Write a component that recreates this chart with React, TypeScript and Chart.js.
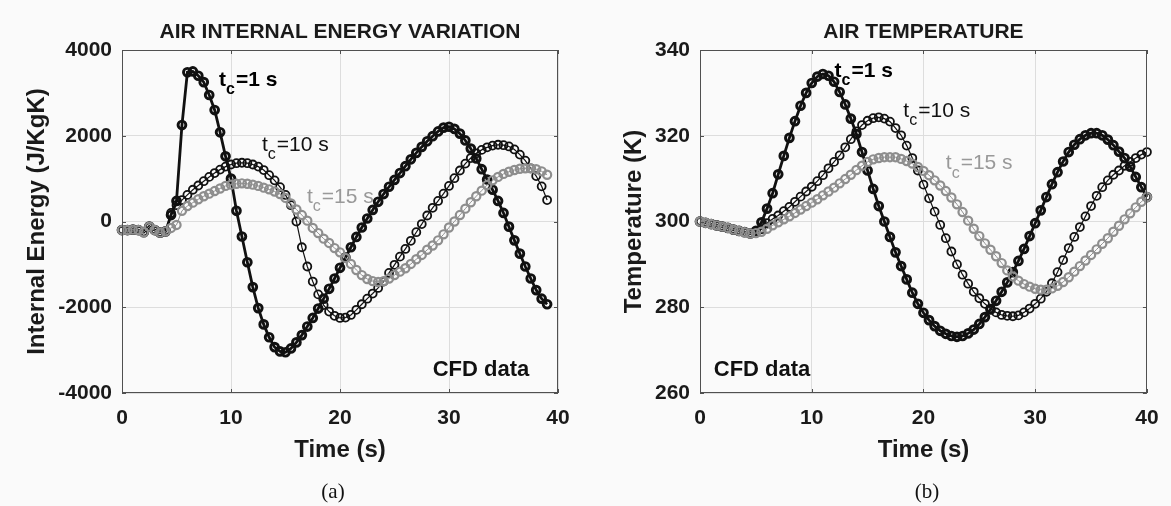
import React, { useEffect, useRef } from "react";
import { Chart, registerables } from "chart.js";

Chart.register(...registerables);

const FONT = "'Liberation Sans', Arial, Helvetica, sans-serif";

// ---------- data ----------
const TIME_A = [0,0.5,1,1.5,2,2.5,3,3.5,4,4.5,5,5.5,6,6.5,7,7.5,8,8.5,9,9.5,10,10.5,11,11.5,12,12.5,13,13.5,14,14.5,15,15.5,16,16.5,17,17.5,18,18.5,19,19.5,20,20.5,21,21.5,22,22.5,23,23.5,24,24.5,25,25.5,26,26.5,27,27.5,28,28.5,29,29.5,30,30.5,31,31.5,32,32.5,33,33.5,34,34.5,35,35.5,36,36.5,37,37.5,38,38.5,39];
const TIME_B = [0,0.5,1,1.5,2,2.5,3,3.5,4,4.5,5,5.5,6,6.5,7,7.5,8,8.5,9,9.5,10,10.5,11,11.5,12,12.5,13,13.5,14,14.5,15,15.5,16,16.5,17,17.5,18,18.5,19,19.5,20,20.5,21,21.5,22,22.5,23,23.5,24,24.5,25,25.5,26,26.5,27,27.5,28,28.5,29,29.5,30,30.5,31,31.5,32,32.5,33,33.5,34,34.5,35,35.5,36,36.5,37,37.5,38,38.5,39,39.5,40];

const ENERGY_TC1 = [-200,-200,-190,-200,-250,-120,-200,-260,-230,
  150,480,2250,3480,3500,3400,3250,2950,2600,2080,
  1520,1000,250,-350,-950,-1530,-2020,-2400,-2700,-2930,
  -3030,-3050,-2960,-2820,-2650,-2450,-2250,-2030,-1800,-1570,
  -1330,-1080,-840,-600,-360,-140,70,270,460,640,
  810,970,1130,1290,1450,1600,1740,1870,1990,2100,
  2190,2210,2160,2050,1890,1700,1470,1220,980,740,
  480,200,-120,-440,-750,-1050,-1330,-1600,-1800,-1930];
const ENERGY_TC10 = [-200,-200,-190,-200,-250,-120,-200,-260,-230,
  200,380,500,620,740,840,940,1040,1130,1210,
  1280,1330,1360,1370,1360,1330,1280,1200,1080,960,
  800,620,380,0,-600,-1050,-1400,-1700,-1950,-2100,
  -2200,-2250,-2240,-2180,-2060,-1930,-1800,-1680,-1550,-1400,
  -1200,-1010,-820,-640,-450,-250,-60,140,320,480,
  650,830,1010,1190,1350,1480,1590,1670,1730,1770,
  1790,1780,1750,1680,1560,1420,1240,1060,820,500];
const ENERGY_TC15 = [-200,-200,-190,-200,-250,-120,-200,-260,-230,
  -150,-80,250,360,440,520,590,650,710,770,
  830,860,880,890,880,860,830,790,750,700,
  640,550,420,280,150,20,-150,-270,-400,-500,
  -620,-720,-850,-990,-1130,-1250,-1340,-1390,-1410,-1390,
  -1330,-1250,-1170,-1090,-990,-880,-780,-660,-560,-440,
  -300,-140,0,150,300,450,590,720,850,960,
  1040,1110,1160,1200,1230,1240,1240,1220,1170,1090];

const TEMP_TC1 = [300,299.7,299.4,299.1,298.8,298.5,298.1,297.8,297.5,297.2,
  297.8,299.8,303,306.6,311,315.3,319.5,323.4,327,330,
  332.3,333.8,334.4,334,332.6,330.2,327.3,324,320.4,316.2,
  311.9,307.6,303.6,300,296.4,292.8,289.6,286.5,283.4,280.8,
  278.7,277,275.6,274.5,273.8,273.3,273.1,273.3,273.9,274.8,
  276.1,277.7,279.5,281.5,283.6,285.8,288.2,290.8,293.6,296.6,
  299.6,302.6,305.7,308.7,311.5,314,316.2,317.9,319.2,320.1,
  320.6,320.6,320.1,319.1,317.8,316.3,314.8,312.8,310.4,308,
  305.7];
const TEMP_TC10 = [300,299.7,299.4,299.1,298.8,298.5,298.1,297.8,297.5,297.2,
  297.4,298.2,299.6,300.6,301.4,302.4,303.4,304.6,305.8,307,
  308.1,309.4,310.8,312.4,313.9,315.4,317.3,319.2,321,322.5,
  323.5,324.1,324.3,324,323.3,321.8,320.1,317.7,314.8,311.9,
  308.6,305.4,302.3,299.2,296.1,293,290,287.6,285.5,283.6,
  282.1,280.8,279.7,278.8,278.2,278,277.9,278.1,278.8,279.7,
  280.8,282,283.6,285.6,288.2,291,293.8,296.4,298.7,301.2,
  303.6,306,308,309.6,310.9,311.9,313,313.9,314.8,315.6,
  316.2];
const TEMP_TC15 = [300,299.7,299.4,299.1,298.8,298.5,298.1,297.8,297.5,297.2,
  297.3,297.6,298.3,299.1,299.8,300.5,301.2,302,302.8,303.6,
  304.4,305.2,306.1,307,307.9,308.9,309.9,310.9,312,313,
  313.9,314.5,314.8,315,315,315,314.6,314.1,313.5,312.7,
  311.8,310.8,309.6,308.4,307.1,305.6,304,302.2,300.2,298.3,
  296.6,294.9,293.4,291.9,290.3,288.6,287.2,286.2,285.4,284.8,
  284.3,284.1,284.1,284.4,285,285.9,287,288.3,289.6,290.9,
  292.2,293.5,294.8,296.1,297.6,299,300.5,301.9,303.3,304.6,
  305.7];

const X_TICKS = [0, 10, 20, 30, 40];
const ENERGY_TICKS = [-4000, -2000, 0, 2000, 4000];
const TEMP_TICKS = [260, 280, 300, 320, 340];

const SERIES_NAMES = ["1", "10", "15"];

// ---------- styles ----------
const STYLES = [
  { color: "#111111", line: 2.8, radius: 3.9, ring: 2.9 },
  { color: "#111111", line: 1.2, radius: 4.0, ring: 1.8 },
  { color: "#8e8e8e", line: 1.0, radius: 4.1, ring: 2.2 },
];

type Label = { x: number; y: number; sub?: boolean; text: string; bold: boolean; color: string };

function makeFrame(title: string, labels: Label[]) {
  return {
    id: "frame",
    afterDraw(chart: any) {
      const { ctx, chartArea: a, scales } = chart;
      const xs = scales.x;
      const ys = scales.y;
      ctx.save();
      // box
      ctx.strokeStyle = "#505050";
      ctx.lineWidth = 1;
      ctx.strokeRect(Math.round(a.left) + 0.5, Math.round(a.top) + 0.5, Math.round(a.right - a.left) - 1, Math.round(a.bottom - a.top) - 1);
      // inner ticks
      const tl = 4;
      ctx.beginPath();
      for (const v of X_TICKS) {
        const px = Math.round(xs.getPixelForValue(v)) + 0.5;
        ctx.moveTo(px, a.bottom); ctx.lineTo(px, a.bottom - tl);
        ctx.moveTo(px, a.top); ctx.lineTo(px, a.top + tl);
      }
      for (const t of ys.ticks) {
        const py = Math.round(ys.getPixelForValue(t.value)) + 0.5;
        ctx.moveTo(a.left, py); ctx.lineTo(a.left + tl, py);
        ctx.moveTo(a.right, py); ctx.lineTo(a.right - tl, py);
      }
      ctx.stroke();
      // title
      ctx.fillStyle = "#1a1a1a";
      ctx.font = `bold 21px ${FONT}`;
      ctx.textAlign = "center";
      ctx.textBaseline = "middle";
      ctx.fillText(title, (a.left + a.right) / 2, 32);
      // annotations
      ctx.textAlign = "left";
      for (const l of labels) {
        let px = xs.getPixelForValue(l.x);
        const py = ys.getPixelForValue(l.y);
        const w = l.bold ? "bold" : "normal";
        ctx.fillStyle = l.color;
        if (l.sub) {
          ctx.font = `${w} 21px ${FONT}`;
          ctx.fillText("t", px, py);
          px += ctx.measureText("t").width;
          ctx.font = `${w} 16px ${FONT}`;
          ctx.fillText("c", px, py + 10);
          px += ctx.measureText("c").width + 1;
          ctx.font = `${w} 21px ${FONT}`;
          ctx.fillText(l.text, px, py);
        } else {
          ctx.font = `${w} 22px ${FONT}`;
          ctx.fillText(l.text, px, py);
        }
      }
      ctx.restore();
    },
  };
}

type PanelCfg = {
  time: number[];
  series: number[][];
  yMin: number;
  yMax: number;
  yTicks: number[];
  yTitle: string;
  yWidth: number;
  yTitlePad: number;
  padRight: number;
  title: string;
  labels: Label[];
};

function makeConfig(p: PanelCfg): any {
  const datasets = p.series
    .map((vals, i) => {
      const s = STYLES[i];
      return {
        label: "tc=" + SERIES_NAMES[i] + " s",
        data: vals.map((v, k) => ({ x: p.time[k], y: v })),
        borderColor: s.color,
        borderWidth: s.line,
        pointRadius: s.radius,
        pointBorderWidth: s.ring,
        pointBorderColor: s.color,
        pointBackgroundColor: "rgba(0,0,0,0)",
        pointStyle: "circle",
        tension: 0,
        clip: false,
        order: 3 - i,
      };
    });
  const tickFont = { family: FONT, size: 21, weight: "bold" };
  const titleFont = { family: FONT, size: 24, weight: "bold" };
  return {
    type: "line",
    data: { datasets },
    plugins: [makeFrame(p.title, p.labels)],
    options: {
      responsive: false,
      devicePixelRatio: 1,
      animation: false,
      events: [],
      layout: { padding: { left: 0, right: p.padRight, top: 50, bottom: 0 } },
      plugins: { legend: { display: false }, tooltip: { enabled: false }, title: { display: false } },
      scales: {
        x: {
          type: "linear",
          min: 0,
          max: 40,
          afterBuildTicks: (s: any) => { s.ticks = X_TICKS.map((v) => ({ value: v })); },
          afterFit: (s: any) => { s.height = 113; },
          ticks: { font: tickFont, color: "#1a1a1a", padding: 12.4, maxRotation: 0, autoSkip: false, callback: (v: any) => String(v) },
          grid: { color: "#dddddd", lineWidth: 1, drawTicks: false },
          border: { display: false },
          title: { display: true, text: "Time (s)", font: titleFont, color: "#1a1a1a", padding: { top: 0, bottom: 41.6 } },
        },
        y: {
          type: "linear",
          position: "left",
          min: p.yMin,
          max: p.yMax,
          afterBuildTicks: (s: any) => { s.ticks = p.yTicks.map((v) => ({ value: v })); },
          afterFit: (s: any) => { s.width = p.yWidth; },
          ticks: { font: tickFont, color: "#1a1a1a", padding: 10, autoSkip: false, callback: (v: any) => String(v) },
          grid: { color: "#dddddd", lineWidth: 1, drawTicks: false },
          border: { display: false },
          title: { display: true, text: p.yTitle, font: titleFont, color: "#1a1a1a", padding: { top: p.yTitlePad, bottom: 0 } },
        },
      },
    },
  };
}

const captionStyle = (cx: number): React.CSSProperties => ({
  position: "absolute",
  left: cx - 50,
  width: 100,
  top: 478,
  height: 26,
  lineHeight: "26px",
  textAlign: "center",
  fontFamily: "'Liberation Serif', 'Times New Roman', serif",
  fontSize: 21,
  color: "#111",
});

export default function App() {
  const refA = useRef<HTMLCanvasElement>(null);
  const refB = useRef<HTMLCanvasElement>(null);

  useEffect(() => {
    const chartA = new Chart(refA.current as HTMLCanvasElement, makeConfig({
      time: TIME_A,
      series: [ENERGY_TC1, ENERGY_TC10, ENERGY_TC15],
      yMin: -4000,
      yMax: 4000,
      yTicks: ENERGY_TICKS,
      yTitle: "Internal Energy (J/KgK)",
      yWidth: 122,
      yTitlePad: 22.6,
      padRight: 27,
      title: "AIR INTERNAL ENERGY VARIATION",
      labels: [
        { x: 8.9, y: 3300, sub: true, text: "=1 s", bold: true, color: "#000" },
        { x: 12.84, y: 1784, sub: true, text: "=10 s", bold: false, color: "#111" },
        { x: 16.97, y: 571, sub: true, text: "=15 s", bold: false, color: "#999" },
        { x: 28.5, y: -3464, text: "CFD data", bold: true, color: "#111" },
      ],
    }));
    const chartB = new Chart(refB.current as HTMLCanvasElement, makeConfig({
      time: TIME_B,
      series: [TEMP_TC1, TEMP_TC10, TEMP_TC15],
      yMin: 260,
      yMax: 340,
      yTicks: TEMP_TICKS,
      yTitle: "Temperature (K)",
      yWidth: 115,
      yTitlePad: 34.6,
      padRight: 16,
      title: "AIR TEMPERATURE",
      labels: [
        { x: 12.04, y: 335.1, sub: true, text: "=1 s", bold: true, color: "#000" },
        { x: 18.2, y: 325.8, sub: true, text: "=10 s", bold: false, color: "#111" },
        { x: 22.0, y: 313.5, sub: true, text: "=15 s", bold: false, color: "#999" },
        { x: 1.23, y: 265.3, text: "CFD data", bold: true, color: "#111" },
      ],
    }));
    return () => {
      chartA.destroy();
      chartB.destroy();
    };
  }, []);

  return (
    <div style={{ position: "fixed", left: 0, top: 0, width: 1171, height: 506, background: "#fafafa", overflow: "hidden" }}>
      <canvas ref={refA} width={585} height={506} style={{ position: "absolute", left: 0, top: 0, width: 585, height: 506 }} />
      <canvas ref={refB} width={586} height={506} style={{ position: "absolute", left: 585, top: 0, width: 586, height: 506 }} />
      <div style={captionStyle(333)}>(a)</div>
      <div style={captionStyle(927)}>(b)</div>
    </div>
  );
}
